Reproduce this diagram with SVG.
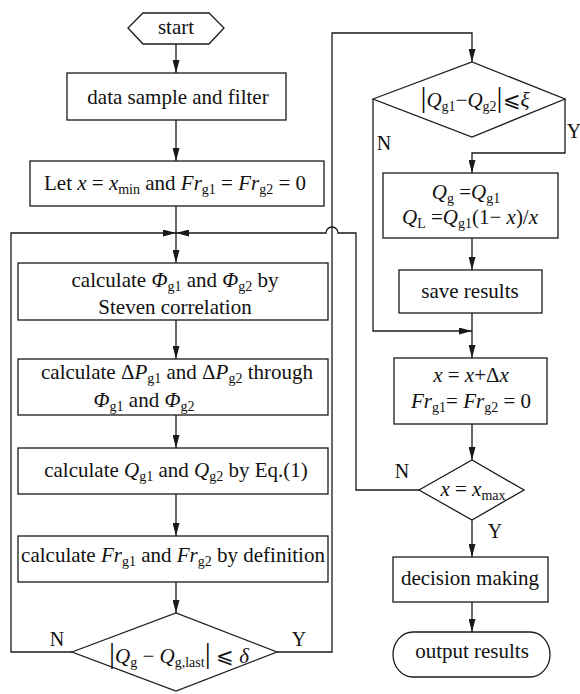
<svg xmlns="http://www.w3.org/2000/svg" width="580" height="694" viewBox="0 0 580 694" font-family="'Liberation Serif', 'Times New Roman', 'DejaVu Serif', serif">
  <defs>
    <style>
      .box { fill: #fff; stroke: #1a1a1a; stroke-width: 1.3; }
      .ln { fill: none; stroke: #1a1a1a; stroke-width: 1.3; }
      .arr { marker-end: url(#ah); }
      text { font-family: 'Liberation Serif', 'Times New Roman', 'DejaVu Serif', serif; font-size: 21px; fill: #111; text-anchor: middle; }
      .i { font-style: italic; }
      .s { font-size: 14px; }
      .bar { font-size: 30px; }
      .lbl { font-size: 20px; }
    </style>
    <marker id="ah" viewBox="0 0 13 7" refX="13" refY="3.5" markerWidth="13" markerHeight="7" markerUnits="userSpaceOnUse" orient="auto">
      <path d="M0,0 L13,3.5 L0,7 Z" fill="#1a1a1a"/>
    </marker>
  </defs>
  <rect width="580" height="694" fill="#fff"/>

  <!-- connectors -->
  <g id="connectors">
    <path class="ln arr" d="M176,44 V73"/>
    <path class="ln arr" d="M176,120 V161"/>
    <path class="ln arr" d="M176,206 V263"/>
    <path class="ln arr" d="M176,320 V359"/>
    <path class="ln arr" d="M176,415 V448"/>
    <path class="ln arr" d="M176,494 V536"/>
    <path class="ln arr" d="M176,582 V613"/>
    <path class="ln arr" d="M72,652 H11 V233 H176"/>
    <path class="ln arr" d="M277,652 H332 V33 H472 V62"/>
    <path class="ln arr" d="M565,99 V153 H472 V173"/>
    <path class="ln arr" d="M472,238 V270"/>
    <path class="ln arr" d="M472,313 V358"/>
    <path class="ln arr" d="M373,99 V331 H472"/>
    <path class="ln arr" d="M472,424 V460"/>
    <path class="ln arr" d="M419,490 H356 V233 H338 A6,6 0 0 0 326,233 H176"/>
    <path class="ln arr" d="M472,520 V557"/>
    <path class="ln arr" d="M472,602 V632"/>
    <text class="lbl" x="57" y="646">N</text>
    <text class="lbl" x="299" y="646">Y</text>
    <text class="lbl" x="384" y="150">N</text>
    <text class="lbl" x="574" y="138">Y</text>
    <text class="lbl" x="402" y="478">N</text>
    <text class="lbl" x="495" y="538">Y</text>
  </g>

  <g id="start">
    <polygon class="box" points="128,28 143,13 209,13 224,28 209,44 143,44"/>
    <text x="176" y="34">start</text>
  </g>

  <g id="sample">
    <rect class="box" x="67" y="73" width="219" height="47"/>
    <text x="178" y="104">data sample and filter</text>
  </g>

  <g id="init">
    <rect class="box" x="30" y="161" width="294" height="45"/>
    <text x="175" y="190">Let <tspan class="i">x</tspan> = <tspan class="i">x</tspan><tspan class="s" dy="4">min</tspan><tspan dy="-4"> and </tspan><tspan class="i">Fr</tspan><tspan class="s" dy="4">g1</tspan><tspan dy="-4"> = </tspan><tspan class="i">Fr</tspan><tspan class="s" dy="4">g2</tspan><tspan dy="-4"> = 0</tspan></text>
  </g>

  <g id="phi">
    <rect class="box" x="18" y="263" width="310" height="57"/>
    <text x="175" y="287">calculate  <tspan class="i">Φ</tspan><tspan class="s" dy="4">g1</tspan><tspan dy="-4"> and  </tspan><tspan class="i">Φ</tspan><tspan class="s" dy="4">g2</tspan><tspan dy="-4">  by</tspan></text>
    <text x="175" y="314">Steven correlation</text>
  </g>

  <g id="dp">
    <rect class="box" x="18" y="359" width="310" height="56"/>
    <text x="177" y="379">calculate Δ<tspan class="i">P</tspan><tspan class="s" dy="4">g1</tspan><tspan dy="-4"> and  Δ</tspan><tspan class="i">P</tspan><tspan class="s" dy="4">g2</tspan><tspan dy="-4"> through</tspan></text>
    <text x="144" y="407"><tspan class="i">Φ</tspan><tspan class="s" dy="4">g1</tspan><tspan dy="-4"> and  </tspan><tspan class="i">Φ</tspan><tspan class="s" dy="4">g2</tspan></text>
  </g>

  <g id="flow">
    <rect class="box" x="18" y="448" width="310" height="46"/>
    <text x="176" y="477">calculate <tspan class="i">Q</tspan><tspan class="s" dy="4">g1</tspan><tspan dy="-4"> and </tspan><tspan class="i">Q</tspan><tspan class="s" dy="4">g2</tspan><tspan dy="-4">  by Eq.(1)</tspan></text>
  </g>

  <g id="froude">
    <rect class="box" x="18" y="536" width="310" height="46"/>
    <text x="173" y="562">calculate <tspan class="i">Fr</tspan><tspan class="s" dy="4">g1</tspan><tspan dy="-4"> and </tspan><tspan class="i">Fr</tspan><tspan class="s" dy="4">g2</tspan><tspan dy="-4"> by definition</tspan></text>
  </g>

  <g id="conv">
    <polygon class="box" points="72,652 176,613 277,652 176,691"/>
    <text x="179" y="663"><tspan class="bar">|</tspan><tspan class="i">Q</tspan><tspan class="s" dy="4">g</tspan><tspan dy="-4"> − </tspan><tspan class="i">Q</tspan><tspan class="s" dy="4">g,last</tspan><tspan class="bar" dy="-4">|</tspan><tspan> ⩽ </tspan><tspan class="i">δ</tspan></text>
  </g>

  <g id="agree">
    <polygon class="box" points="373,99 472,62 565,99 472,137"/>
    <text x="475" y="107"><tspan class="bar">|</tspan><tspan class="i">Q</tspan><tspan class="s" dy="4">g1</tspan><tspan dy="-4">−</tspan><tspan class="i">Q</tspan><tspan class="s" dy="4">g2</tspan><tspan class="bar" dy="-4">|</tspan><tspan>⩽</tspan><tspan class="i">ξ</tspan></text>
  </g>

  <g id="assign">
    <rect class="box" x="383" y="173" width="175" height="65"/>
    <text x="466" y="199"><tspan class="i">Q</tspan><tspan class="s" dy="4">g</tspan><tspan dy="-4"> =</tspan><tspan class="i">Q</tspan><tspan class="s" dy="4">g1</tspan></text>
    <text x="470" y="224"><tspan class="i">Q</tspan><tspan class="s" dy="4">L</tspan><tspan dy="-4"> =</tspan><tspan class="i">Q</tspan><tspan class="s" dy="4">g1</tspan><tspan dy="-4">(1− </tspan><tspan class="i">x</tspan><tspan>)/</tspan><tspan class="i">x</tspan></text>
  </g>

  <g id="save">
    <rect class="box" x="399" y="270" width="143" height="43"/>
    <text x="470" y="298">save results</text>
  </g>

  <g id="step">
    <rect class="box" x="394" y="358" width="153" height="66"/>
    <text x="471" y="382"><tspan class="i">x</tspan> = <tspan class="i">x</tspan>+Δ<tspan class="i">x</tspan></text>
    <text x="471" y="408"><tspan class="i">Fr</tspan><tspan class="s" dy="4">g1</tspan><tspan dy="-4">= </tspan><tspan class="i">Fr</tspan><tspan class="s" dy="4">g2</tspan><tspan dy="-4"> = 0</tspan></text>
  </g>

  <g id="end-check">
    <polygon class="box" points="419,490 472,460 524,490 472,520"/>
    <text x="473" y="496"><tspan class="i">x</tspan> = <tspan class="i">x</tspan><tspan class="s" dy="4">max</tspan></text>
  </g>

  <g id="decide">
    <rect class="box" x="393" y="557" width="155" height="45"/>
    <text x="470" y="585">decision making</text>
  </g>

  <g id="output">
    <rect class="box" x="393" y="632" width="157" height="45" rx="20" ry="22.5"/>
    <text x="472" y="658">output results</text>
  </g>
</svg>
